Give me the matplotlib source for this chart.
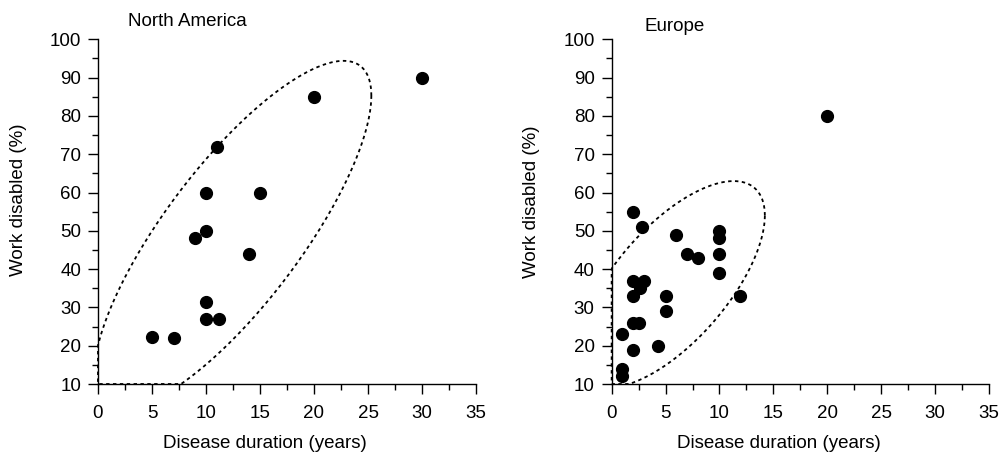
import numpy as np
import matplotlib
matplotlib.use("Agg")
import matplotlib.pyplot as plt
from matplotlib.ticker import MultipleLocator

plt.rcParams['font.family'] = ['Liberation Sans', 'DejaVu Sans']

# North America
na_years = [5, 7, 9, 10, 10, 10, 10, 11, 11.2, 14, 15, 20, 30]
na_disabled = [22.2, 22, 48, 60, 50, 31.5, 27, 72, 27, 44, 60, 85, 90]

# Europe
eu_years = [20, 2, 2.8, 6, 10, 10, 7, 8, 10, 10, 2, 3, 2.6, 2, 5, 5, 11.9, 2, 2.5, 1, 2, 4.3, 1, 1]
eu_disabled = [80, 55, 51, 49, 50, 48, 44, 43, 44, 39, 37, 37, 35, 33, 33, 29, 33, 26, 26, 23, 19, 20, 14, 12]

# dashed ellipses: x = cx + a*cos t, y = cy + b*cos t + c*sin t
na_ellipse = (12.47, 48.89, 12.84, 36.37, 27.32)
eu_ellipse = (5.52, 36.03, 8.69, 17.97, 20.09)

xmin, xmax = 0, 35
ymin, ymax = 10, 100

fig = plt.figure(figsize=(10.07, 4.57), dpi=100)
ax1 = fig.add_axes([0.0973, 0.1597, 0.3754, 0.7543])
ax2 = fig.add_axes([0.6074, 0.1597, 0.3747, 0.7543])

panels = [
    (ax1, na_years, na_disabled, na_ellipse, "North America", 0.079, 1.0386, -0.188, 0.534),
    (ax2, eu_years, eu_disabled, eu_ellipse, "Europe", 0.088, 1.025, -0.19, 0.528),
]

t = np.linspace(0, 2 * np.pi, 400)
for ax, xs, ys, ell, title, tx, ty, ylx, yly in panels:
    cx, cy, a, b, c = ell
    # ellipse is squashed onto the axes where it runs outside them
    ex = np.clip(cx + a * np.cos(t), xmin, xmax)
    ey = np.clip(cy + b * np.cos(t) + c * np.sin(t), ymin, ymax)
    ax.plot(ex, ey, color='black', lw=1.3, linestyle=(0, (1.9, 1.9)), clip_on=False, zorder=2)
    ax.plot(xs, ys, 'o', color='black', markersize=8.5, clip_on=False, zorder=3)

    ax.set_xlim(xmin, xmax)
    ax.set_ylim(ymin, ymax)
    ax.xaxis.set_major_locator(MultipleLocator(5))
    ax.xaxis.set_minor_locator(MultipleLocator(2.5))
    ax.yaxis.set_major_locator(MultipleLocator(10))
    ax.yaxis.set_minor_locator(MultipleLocator(5))
    for s in ['top', 'right']:
        ax.spines[s].set_visible(False)
    for s in ['left', 'bottom']:
        ax.spines[s].set_linewidth(1.0)
    ax.tick_params(which='major', length=7.2, width=1.0, labelsize=13.5, direction='out')
    ax.tick_params(which='minor', length=4.3, width=1.0, direction='out')
    ax.tick_params(axis='x', which='major', pad=8)
    ax.tick_params(axis='y', which='major', pad=5)

    ax.set_xlabel("Disease duration (years)", fontsize=13.5)
    ax.xaxis.set_label_coords(0.442, -0.148)
    ax.set_ylabel("Work disabled (%)", fontsize=13.5)
    ax.yaxis.set_label_coords(ylx, yly)
    ax.text(tx, ty, title, transform=ax.transAxes, fontsize=13.5, ha='left', va='baseline')

fig.savefig("out.png", dpi=100)
